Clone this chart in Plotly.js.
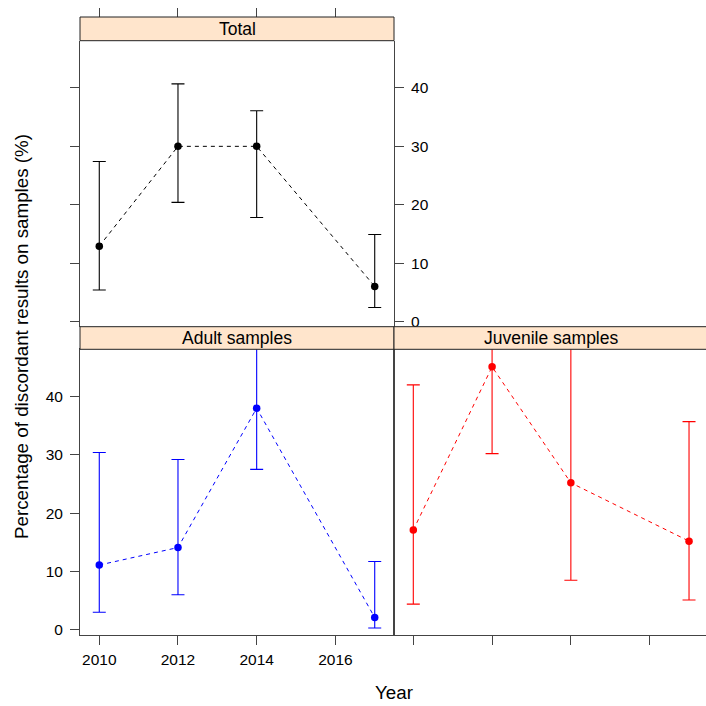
<!DOCTYPE html>
<html>
<head>
<meta charset="utf-8">
<script src="https://cdn.plot.ly/plotly-3.0.1.min.js"></script>
<style>html,body{margin:0;padding:0;background:#fff}#chart{width:706px;height:706px}</style>
</head>
<body>
<div id="chart"></div>
<script>
// ---- data ----
var years = [2010, 2012, 2014, 2017];
var tickYears = [2010, 2012, 2014, 2016];
var yTicks = [0, 10, 20, 30, 40];

var totalPct  = [12.9, 30.0, 30.0, 6.0];
var totalLow  = [5.4, 20.4, 17.8, 2.4];
var totalHigh = [27.4, 40.7, 36.1, 14.9];

var adultPct  = [11.1, 14.1, 38.0, 2.1];
var adultLow  = [3.0, 6.0, 27.5, 0.3];
var adultHigh = [30.4, 29.2, 52.0, 11.7];

var juvPct  = [17.1, 45.1, 25.2, 15.2];
var juvLow  = [4.4, 30.2, 8.5, 5.1];
var juvHigh = [42.0, 60.0, 57.0, 35.7];

var panelTitles = ['Total', 'Adult samples', 'Juvenile samples'];
var yTitle = 'Percentage of discordant results on samples (%)';
var xTitle = 'Year';

// ---- helpers ----
var W = 706, H = 706;
function px(v) { return v / W; }
function py(v) { return 1 - v / H; }
function diff(a, b) { return a.map(function (v, i) { return v - b[i]; }); }

function series(pct, low, high, color, xa, ya) {
  return {
    x: years, y: pct, xaxis: xa, yaxis: ya,
    type: 'scatter', mode: 'lines+markers',
    line: { color: color, width: 1, dash: '4px,4px' },
    marker: { color: color, size: 7.5, symbol: 'circle' },
    error_y: {
      type: 'data', symmetric: false,
      array: diff(high, pct), arrayminus: diff(pct, low),
      color: color, thickness: 1.1, width: 6.5
    },
    showlegend: false, hoverinfo: 'skip'
  };
}

var data = [
  series(totalPct, totalLow, totalHigh, '#000000', 'x', 'y'),
  series(adultPct, adultLow, adultHigh, '#0000FF', 'x2', 'y2'),
  series(juvPct, juvLow, juvHigh, '#FF0000', 'x3', 'y3')
];

var FONT = 'Liberation Sans, Arial, sans-serif';
var AX = '#444444';
var yRange = [-0.9, 48.1];
var xRangeL = [2009.51, 2017.49];
var xRangeR = [2009.51, 2009.51 + (W - 394) / 39.39];

var leftDom = [px(80), px(394)];
var rightDom = [px(394), 1];
var topDom = [py(326.7), py(40.7)];
var botDom = [py(635), py(349.3)];

var common = { showgrid: false, zeroline: false, fixedrange: true,
  tickfont: { family: FONT, size: 15.5, color: '#000' },
  tickcolor: AX, linecolor: AX, linewidth: 1, tickwidth: 1, ticklen: 9 };

function ax(o) { var r = {}; for (var k in common) r[k] = common[k]; for (var k2 in o) r[k2] = o[k2]; return r; }

var layout = {
  width: W, height: H,
  margin: { l: 0, r: 0, t: 0, b: 0, pad: 0 },
  paper_bgcolor: '#ffffff', plot_bgcolor: '#ffffff',
  showlegend: false,
  xaxis: ax({ domain: leftDom, range: xRangeL, anchor: 'free', position: py(17), side: 'top',
    ticks: 'outside', tickvals: tickYears, showticklabels: false, showline: false }),
  yaxis: ax({ domain: topDom, range: yRange, anchor: 'x', side: 'right',
    ticks: 'outside', tickvals: yTicks, showline: true, mirror: 'ticks', ticklabelstandoff: 4 }),
  xaxis2: ax({ domain: leftDom, range: xRangeL, anchor: 'y2', side: 'bottom',
    ticks: 'outside', tickvals: tickYears, showline: true, mirror: true, ticklabelstandoff: 1 }),
  yaxis2: ax({ domain: botDom, range: yRange, anchor: 'x2', side: 'left',
    ticks: 'outside', tickvals: yTicks, showline: true, mirror: true, ticklabelstandoff: 4 }),
  xaxis3: ax({ domain: rightDom, range: xRangeR, anchor: 'y3', side: 'bottom',
    ticks: 'outside', tickvals: tickYears, showticklabels: false, showline: true }),
  yaxis3: ax({ domain: botDom, range: yRange, anchor: 'x3', side: 'left',
    ticks: '', showticklabels: false, showline: true }),
  shapes: [
    { type: 'rect', xref: 'paper', yref: 'paper', x0: px(80), x1: px(394), y0: py(40.7), y1: py(17),
      fillcolor: '#ffe5cc', line: { color: '#222', width: 1 }, layer: 'above' },
    { type: 'rect', xref: 'paper', yref: 'paper', x0: px(80), x1: px(394), y0: py(349.3), y1: py(326.7),
      fillcolor: '#ffe5cc', line: { color: '#222', width: 1 }, layer: 'above' },
    { type: 'rect', xref: 'paper', yref: 'paper', x0: px(394), x1: 1.01, y0: py(349.3), y1: py(326.7),
      fillcolor: '#ffe5cc', line: { color: '#222', width: 1 }, layer: 'above' }
  ],
  annotations: [
    { text: panelTitles[0], xref: 'paper', yref: 'paper', x: px(237), y: py(29), showarrow: false,
      xanchor: 'center', yanchor: 'middle', font: { family: FONT, size: 17.5, color: '#000' } },
    { text: panelTitles[1], xref: 'paper', yref: 'paper', x: px(237), y: py(338.5), showarrow: false,
      xanchor: 'center', yanchor: 'middle', font: { family: FONT, size: 17.5, color: '#000' } },
    { text: panelTitles[2], xref: 'paper', yref: 'paper', x: px(551), y: py(338.5), showarrow: false,
      xanchor: 'center', yanchor: 'middle', font: { family: FONT, size: 17.5, color: '#000' } },
    { text: yTitle, xref: 'paper', yref: 'paper', x: px(21), y: py(337), textangle: -90, showarrow: false,
      xanchor: 'center', yanchor: 'middle', font: { family: FONT, size: 18.8, color: '#000' } },
    { text: xTitle, xref: 'paper', yref: 'paper', x: px(394), y: py(692), showarrow: false,
      xanchor: 'center', yanchor: 'middle', font: { family: FONT, size: 18.8, color: '#000' } }
  ]
};

Plotly.newPlot('chart', data, layout, { staticPlot: true, displayModeBar: false });
</script>
</body>
</html>
